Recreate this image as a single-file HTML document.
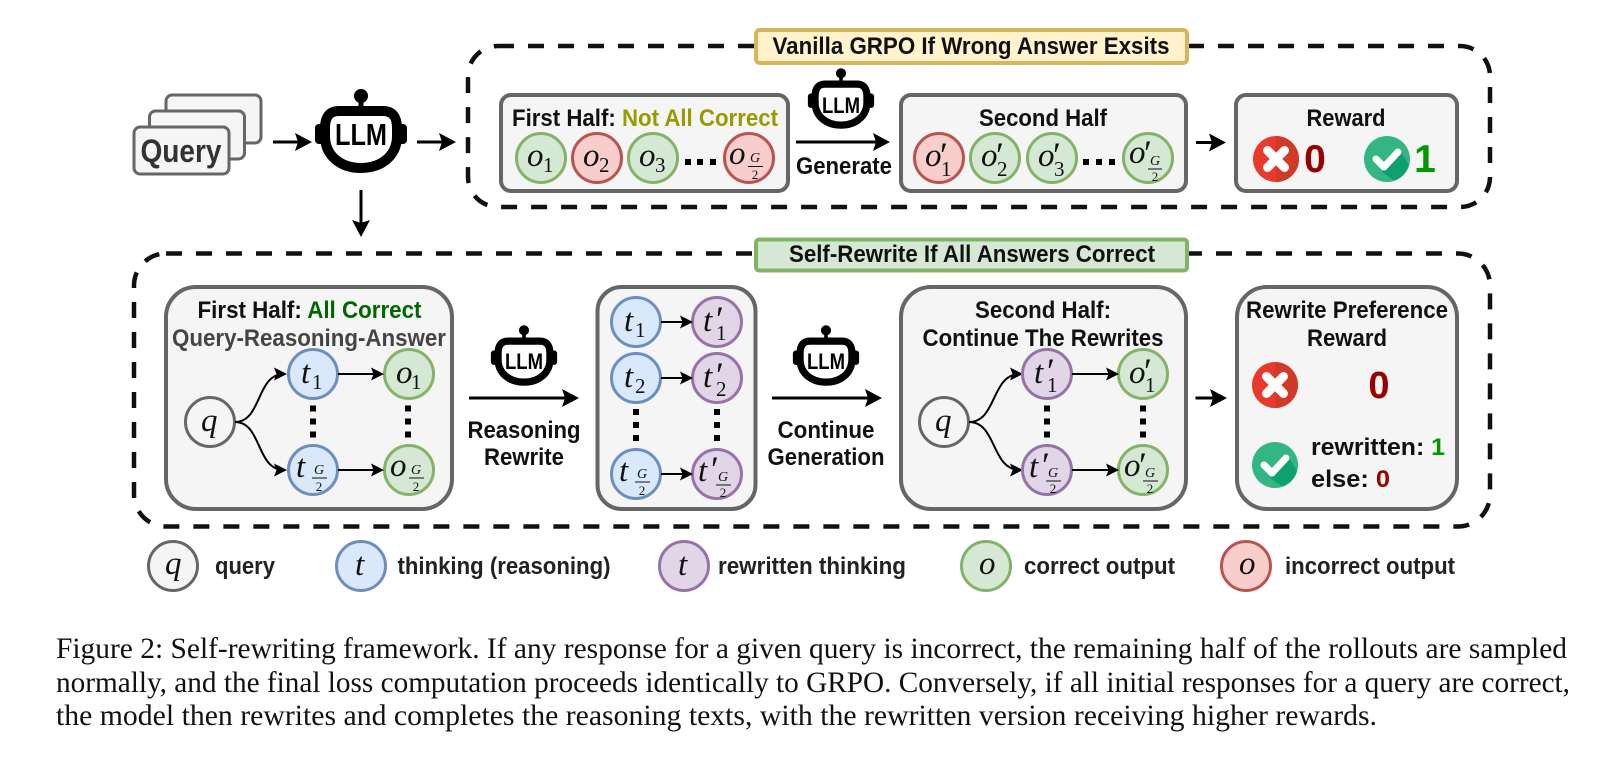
<!DOCTYPE html>
<html><head><meta charset="utf-8">
<style>
html,body{margin:0;padding:0;background:#fff;width:1623px;height:764px;overflow:hidden}
svg{display:block;filter:blur(.35px)}
text{font-family:"Liberation Sans",sans-serif}
.b{font-weight:700;font-size:24px;fill:#111}
.c{text-anchor:middle}
.m{font-family:"Liberation Serif",serif;font-style:italic;font-size:33px;fill:#111}
.s{font-family:"Liberation Serif",serif;font-size:21px;fill:#111}
.f{font-family:"Liberation Serif",serif;font-size:13px;fill:#111;text-anchor:middle}
.fi{font-family:"Liberation Serif",serif;font-style:italic;font-size:14px;fill:#111;text-anchor:middle}
.p{font-family:"Liberation Serif",serif;font-size:36px;fill:#111}
.cap{font-family:"Liberation Serif",serif;font-size:29.5px;fill:#111}
.box{fill:#f5f5f5;stroke:#666;stroke-width:4}
.g{fill:#d5e8d4;stroke:#82b366;stroke-width:3}
.r{fill:#f8cecc;stroke:#b85450;stroke-width:3}
.u{fill:#dae8fc;stroke:#6c8ebf;stroke-width:3}
.v{fill:#e1d5e7;stroke:#9673a6;stroke-width:3}
.w{fill:#f5f5f5;stroke:#666;stroke-width:3}
.dash{fill:none;stroke:#111;stroke-width:4.5;stroke-dasharray:16 14}
.big{stroke:#000;stroke-width:3;fill:none;marker-end:url(#A)}
.sm{stroke:#000;stroke-width:2;fill:none;marker-end:url(#B)}
.ln{stroke:#111;stroke-width:1}
</style></head><body>
<svg width="1623" height="764" viewBox="0 0 1623 764" xmlns="http://www.w3.org/2000/svg">
<defs>
<marker id="A" markerUnits="userSpaceOnUse" markerWidth="20" markerHeight="20" refX="14" refY="9" orient="auto"><path d="M0 0L17 9L0 18L3 9Z" fill="#000"/></marker>
<marker id="B" markerUnits="userSpaceOnUse" markerWidth="16" markerHeight="16" refX="10" refY="6.500" orient="auto"><path d="M0 0L13 6.500L0 13L2.500 6.500Z" fill="#000"/></marker>
<g id="bot">
<circle cx="0" cy="-44" r="7" fill="#000"/><rect x="-2.5" y="-44" width="5" height="16" fill="#000"/>
<rect x="-46" y="-16" width="10" height="20" rx="4" fill="#000"/><rect x="36" y="-16" width="10" height="20" rx="4" fill="#000"/>
<path d="M-22 -29H22Q36 -29 36 -12V-4C36 16 20 28 0 28C-20 28 -36 16 -36 -4V-12Q-36 -29 -22 -29Z" fill="#fff" stroke="#000" stroke-width="10"/>
</g>
<g id="xi">
<circle r="23" fill="#e8392c"/><path d="M0 -23A23 23 0 0 1 0 23Z" fill="#d03a26"/>
<path d="M-8.5 -8.5L8.5 8.5M8.5 -8.5L-8.5 8.5" stroke="#fff" stroke-width="9" stroke-linecap="round"/>
</g>
<g id="ck">
<circle r="23" fill="#33b584"/><path d="M-5 13L13 -9L22 6A23 23 0 0 1 7 21.5Z" fill="#0fa071"/>
<path d="M-11 0L-3 8L11 -7" fill="none" stroke="#fff" stroke-width="7" stroke-linecap="round" stroke-linejoin="round"/>
</g>
</defs>

<!-- dashed containers -->
<rect class="dash" x="468" y="46" width="1022" height="161" rx="30"/>
<rect class="dash" x="134" y="253.500" width="1356" height="273" rx="32"/>

<!-- query stack -->
<rect class="w" x="166" y="95" width="95" height="48" rx="6"/>
<rect class="w" x="149.500" y="111" width="95" height="48" rx="6"/>
<rect class="w" x="134" y="127" width="95" height="47" rx="6"/>
<text x="181" y="162" class="c" font-size="32" font-weight="700" fill="#333" textLength="81" lengthAdjust="spacingAndGlyphs">Query</text>

<!-- main LLM -->
<use href="#bot" transform="translate(361,140)"/>
<text x="361" y="145" class="c" font-size="31" font-weight="700" fill="#000" textLength="52" lengthAdjust="spacingAndGlyphs">LLM</text>
<path class="big" d="M273 142H309"/>
<path class="big" d="M417 142H453"/>
<path class="big" d="M361 190V234"/>

<!-- top labels -->
<rect x="756" y="30" width="431" height="33" rx="4" fill="#fff2cc" stroke="#d6b656" stroke-width="4"/>
<text x="971" y="54" class="b c" textLength="397" lengthAdjust="spacingAndGlyphs">Vanilla GRPO If Wrong Answer Exsits</text>

<!-- first half top -->
<rect class="box" x="501" y="95" width="287" height="96" rx="10"/>
<text x="512" y="126" class="b" textLength="266" lengthAdjust="spacingAndGlyphs">First Half: <tspan fill="#999900">Not All Correct</tspan></text>
<circle class="g" cx="541" cy="158" r="24.500"/><text class="m" x="527" y="166" font-size="30">o</text><text class="s" x="543" y="172">1</text>
<circle class="r" cx="597" cy="158" r="24.500"/><text class="m" x="583" y="166">o</text><text class="s" x="599" y="172">2</text>
<circle class="g" cx="653" cy="158" r="24.500"/><text class="m" x="639" y="166">o</text><text class="s" x="655" y="172">3</text>
<rect x="685" y="159" width="6" height="6"/><rect x="697" y="159" width="6" height="6"/><rect x="710" y="159" width="6" height="6"/>
<circle class="r" cx="749" cy="158" r="24.500"/><text class="m" x="729" y="164" font-size="28">o</text><text class="fi" x="755" y="162">G</text><path class="ln" d="M748 166.500H763"/><text class="f" x="755" y="179">2</text>

<!-- generate -->
<use href="#bot" transform="translate(841,105) scale(.72)"/>
<text x="841" y="113" class="c" font-size="22" font-weight="700" fill="#000" textLength="38" lengthAdjust="spacingAndGlyphs">LLM</text>
<path class="big" d="M796 142H887"/>
<text x="844" y="174" class="b c" textLength="96" lengthAdjust="spacingAndGlyphs">Generate</text>

<!-- second half top -->
<rect class="box" x="901" y="95" width="285" height="96" rx="10"/>
<text x="1043" y="126" class="b c" textLength="128" lengthAdjust="spacingAndGlyphs">Second Half</text>
<circle class="r" cx="939" cy="158" r="24.500"/><text class="m" x="925" y="166">o</text><text class="p" x="940" y="167">′</text><text class="s" x="941" y="176">1</text>
<circle class="g" cx="995" cy="158" r="24.500"/><text class="m" x="981" y="166">o</text><text class="p" x="996" y="167">′</text><text class="s" x="997" y="176">2</text>
<circle class="g" cx="1052" cy="158" r="24.500"/><text class="m" x="1038" y="166">o</text><text class="p" x="1053" y="167">′</text><text class="s" x="1054" y="176">3</text>
<rect x="1083" y="159" width="6" height="6"/><rect x="1096" y="159" width="6" height="6"/><rect x="1109" y="159" width="6" height="6"/>
<circle class="g" cx="1148" cy="158" r="24.500"/><text class="m" x="1129" y="163" font-size="28">o</text><text class="p" x="1144" y="165">′</text><text class="fi" x="1155" y="165">G</text><path class="ln" d="M1148 169H1162"/><text class="f" x="1155" y="181">2</text>
<path class="big" d="M1196 142.500H1223"/>

<!-- reward top -->
<rect class="box" x="1236" y="95" width="221" height="96" rx="10"/>
<text x="1346" y="126" class="b c" textLength="79" lengthAdjust="spacingAndGlyphs">Reward</text>
<use href="#xi" transform="translate(1276,159)"/>
<text x="1315" y="172" class="c" font-size="39" font-weight="700" fill="#990000">0</text>
<use href="#ck" transform="translate(1387,159)"/>
<text x="1425" y="172" class="c" font-size="39" font-weight="700" fill="#009900">1</text>

<!-- bottom label -->
<rect x="756" y="239.500" width="431" height="31" rx="3" fill="#d5e8d4" stroke="#82b366" stroke-width="4"/>
<text x="972" y="262" class="b c" textLength="366" lengthAdjust="spacingAndGlyphs">Self-Rewrite If All Answers Correct</text>

<!-- Box A -->
<rect class="box" x="166" y="287" width="286" height="222" rx="30"/>
<text x="197.500" y="318" class="b" textLength="224" lengthAdjust="spacingAndGlyphs">First Half: <tspan fill="#006600">All Correct</tspan></text>
<text x="172" y="346" class="b" style="fill:#444" textLength="274" lengthAdjust="spacingAndGlyphs">Query-Reasoning-Answer</text>
<circle class="w" cx="210" cy="422" r="24.500"/><text class="m" x="201" y="431" font-size="32">q</text>
<path class="sm" d="M235 422C262 422 256 374 284 374"/>
<path class="sm" d="M235 422C262 422 256 470 284 470"/>
<circle class="u" cx="313" cy="374" r="24.500"/><text class="m" x="301" y="383">t</text><text class="s" x="312" y="389">1</text>
<circle class="g" cx="409" cy="374" r="24.500"/><text class="m" x="396" y="383">o</text><text class="s" x="411" y="389">1</text>
<path class="sm" d="M338 374H381"/>
<rect x="310" y="405.500" width="6" height="6"/><rect x="310" y="418.500" width="6" height="6"/><rect x="310" y="431.500" width="6" height="6"/>
<rect x="405" y="405.500" width="6" height="6"/><rect x="405" y="418.500" width="6" height="6"/><rect x="405" y="431.500" width="6" height="6"/>
<circle class="u" cx="313" cy="470" r="24.500"/><text class="m" x="296" y="477">t</text><text class="fi" x="319" y="474">G</text><path class="ln" d="M312 478H327"/><text class="f" x="319" y="491">2</text>
<circle class="g" cx="409" cy="470" r="24.500"/><text class="m" x="390" y="476" font-size="30">o</text><text class="fi" x="416" y="474">G</text><path class="ln" d="M409 478H424"/><text class="f" x="416" y="491">2</text>
<path class="sm" d="M338 470H381"/>

<!-- LLM Reasoning -->
<use href="#bot" transform="translate(524,362) scale(.72)"/>
<text x="524" y="369" class="c" font-size="22" font-weight="700" fill="#000" textLength="38" lengthAdjust="spacingAndGlyphs">LLM</text>
<path class="big" d="M469 398H576"/>
<text x="524" y="438" class="b c" textLength="113" lengthAdjust="spacingAndGlyphs">Reasoning</text>
<text x="524" y="465" class="b c" textLength="80" lengthAdjust="spacingAndGlyphs">Rewrite</text>

<!-- Box B -->
<rect class="box" x="597.500" y="287" width="158" height="222" rx="24"/>
<circle class="u" cx="636" cy="322" r="24.500"/><text class="m" x="624" y="331">t</text><text class="s" x="635" y="337">1</text>
<circle class="v" cx="717" cy="322" r="24.500"/><text class="m" x="703" y="331">t</text><text class="p" x="716" y="331">′</text><text class="s" x="716" y="340">1</text>
<path class="sm" d="M661 322H690"/>
<circle class="u" cx="636" cy="378" r="24.500"/><text class="m" x="624" y="387">t</text><text class="s" x="635" y="393">2</text>
<circle class="v" cx="717" cy="378" r="24.500"/><text class="m" x="703" y="387">t</text><text class="p" x="716" y="387">′</text><text class="s" x="716" y="396">2</text>
<path class="sm" d="M661 378H690"/>
<rect x="633" y="409" width="6" height="6"/><rect x="633" y="422" width="6" height="6"/><rect x="633" y="435" width="6" height="6"/>
<rect x="714" y="409" width="6" height="6"/><rect x="714" y="422" width="6" height="6"/><rect x="714" y="435" width="6" height="6"/>
<circle class="u" cx="636" cy="474" r="24.500"/><text class="m" x="619" y="481">t</text><text class="fi" x="642" y="478">G</text><path class="ln" d="M635 482H650"/><text class="f" x="642" y="495">2</text>
<circle class="v" cx="717" cy="474" r="24.500"/><text class="m" x="698" y="481">t</text><text class="p" x="711" y="481">′</text><text class="fi" x="723" y="481">G</text><path class="ln" d="M716 485H731"/><text class="f" x="723" y="497">2</text>
<path class="sm" d="M661 474H690"/>

<!-- LLM Continue -->
<use href="#bot" transform="translate(826,362) scale(.72)"/>
<text x="826" y="369" class="c" font-size="22" font-weight="700" fill="#000" textLength="38" lengthAdjust="spacingAndGlyphs">LLM</text>
<path class="big" d="M772 398H879"/>
<text x="826" y="438" class="b c" textLength="97" lengthAdjust="spacingAndGlyphs">Continue</text>
<text x="826" y="465" class="b c" textLength="117" lengthAdjust="spacingAndGlyphs">Generation</text>

<!-- Box C -->
<rect class="box" x="901" y="287" width="285" height="222" rx="30"/>
<text x="1043" y="318" class="b c" textLength="136" lengthAdjust="spacingAndGlyphs">Second Half:</text>
<text x="1043" y="346" class="b c" textLength="241" lengthAdjust="spacingAndGlyphs">Continue The Rewrites</text>
<circle class="w" cx="944" cy="422" r="24.500"/><text class="m" x="935" y="431" font-size="32">q</text>
<path class="sm" d="M969 422C997 422 991 374 1020 374"/>
<path class="sm" d="M969 422C997 422 991 470 1020 470"/>
<circle class="v" cx="1047" cy="374" r="24.500"/><text class="m" x="1034" y="383">t</text><text class="p" x="1047" y="383">′</text><text class="s" x="1047" y="392">1</text>
<circle class="g" cx="1143" cy="374" r="24.500"/><text class="m" x="1129" y="383">o</text><text class="p" x="1144" y="383">′</text><text class="s" x="1145" y="392">1</text>
<path class="sm" d="M1072 374H1116"/>
<rect x="1044" y="405.500" width="6" height="6"/><rect x="1044" y="418.500" width="6" height="6"/><rect x="1044" y="431.500" width="6" height="6"/>
<rect x="1140" y="405.500" width="6" height="6"/><rect x="1140" y="418.500" width="6" height="6"/><rect x="1140" y="431.500" width="6" height="6"/>
<circle class="v" cx="1047" cy="470" r="24.500"/><text class="m" x="1029" y="477">t</text><text class="p" x="1042" y="477">′</text><text class="fi" x="1053" y="477">G</text><path class="ln" d="M1046 481H1061"/><text class="f" x="1053" y="493">2</text>
<circle class="g" cx="1143" cy="470" r="24.500"/><text class="m" x="1124" y="476" font-size="30">o</text><text class="p" x="1139" y="477">′</text><text class="fi" x="1150" y="477">G</text><path class="ln" d="M1143 481H1158"/><text class="f" x="1150" y="493">2</text>
<path class="sm" d="M1072 470H1116"/>
<path class="big" d="M1195.500 398H1224"/>

<!-- Box D -->
<rect class="box" x="1237" y="287" width="220" height="222" rx="30"/>
<text x="1347" y="318" class="b c" textLength="202" lengthAdjust="spacingAndGlyphs">Rewrite Preference</text>
<text x="1347" y="346" class="b c" textLength="80" lengthAdjust="spacingAndGlyphs">Reward</text>
<use href="#xi" transform="translate(1275,385)"/>
<text x="1379" y="398" class="c" font-size="38" font-weight="700" fill="#990000">0</text>
<use href="#ck" transform="translate(1275,465)"/>
<text x="1311" y="455" class="b" textLength="134" lengthAdjust="spacingAndGlyphs">rewritten: <tspan fill="#009900">1</tspan></text>
<text x="1311" y="487" class="b" textLength="79" lengthAdjust="spacingAndGlyphs">else: <tspan fill="#990000">0</tspan></text>

<!-- Legend -->
<circle class="w" cx="173" cy="566" r="24.500"/><text class="m" x="165" y="574" font-size="28">q</text>
<text x="215" y="574" class="b" style="fill:#222" textLength="60" lengthAdjust="spacingAndGlyphs">query</text>
<circle class="u" cx="361" cy="566" r="24.500"/><text class="m" x="355" y="575" font-size="30">t</text>
<text x="397.500" y="574" class="b" style="fill:#222" textLength="213" lengthAdjust="spacingAndGlyphs">thinking (reasoning)</text>
<circle class="v" cx="684" cy="566" r="24.500"/><text class="m" x="678" y="575" font-size="30">t</text>
<text x="718" y="574" class="b" style="fill:#222" textLength="188" lengthAdjust="spacingAndGlyphs">rewritten thinking</text>
<circle class="g" cx="986" cy="566" r="24.500"/><text class="m" x="979" y="574" font-size="28">o</text>
<text x="1024" y="574" class="b" style="fill:#222" textLength="151" lengthAdjust="spacingAndGlyphs">correct output</text>
<circle class="r" cx="1246" cy="566" r="24.500"/><text class="m" x="1239" y="574" font-size="28">o</text>
<text x="1285" y="574" class="b" style="fill:#222" textLength="170" lengthAdjust="spacingAndGlyphs">incorrect output</text>

<!-- Caption -->
<text class="cap" x="56" y="658" textLength="1511" lengthAdjust="spacingAndGlyphs">Figure 2: Self-rewriting framework. If any response for a given query is incorrect, the remaining half of the rollouts are sampled</text>
<text class="cap" x="56" y="692" textLength="1514" lengthAdjust="spacingAndGlyphs">normally, and the final loss computation proceeds identically to GRPO. Conversely, if all initial responses for a query are correct,</text>
<text class="cap" x="56" y="725" textLength="1321" lengthAdjust="spacingAndGlyphs">the model then rewrites and completes the reasoning texts, with the rewritten version receiving higher rewards.</text>
</svg>
</body></html>
